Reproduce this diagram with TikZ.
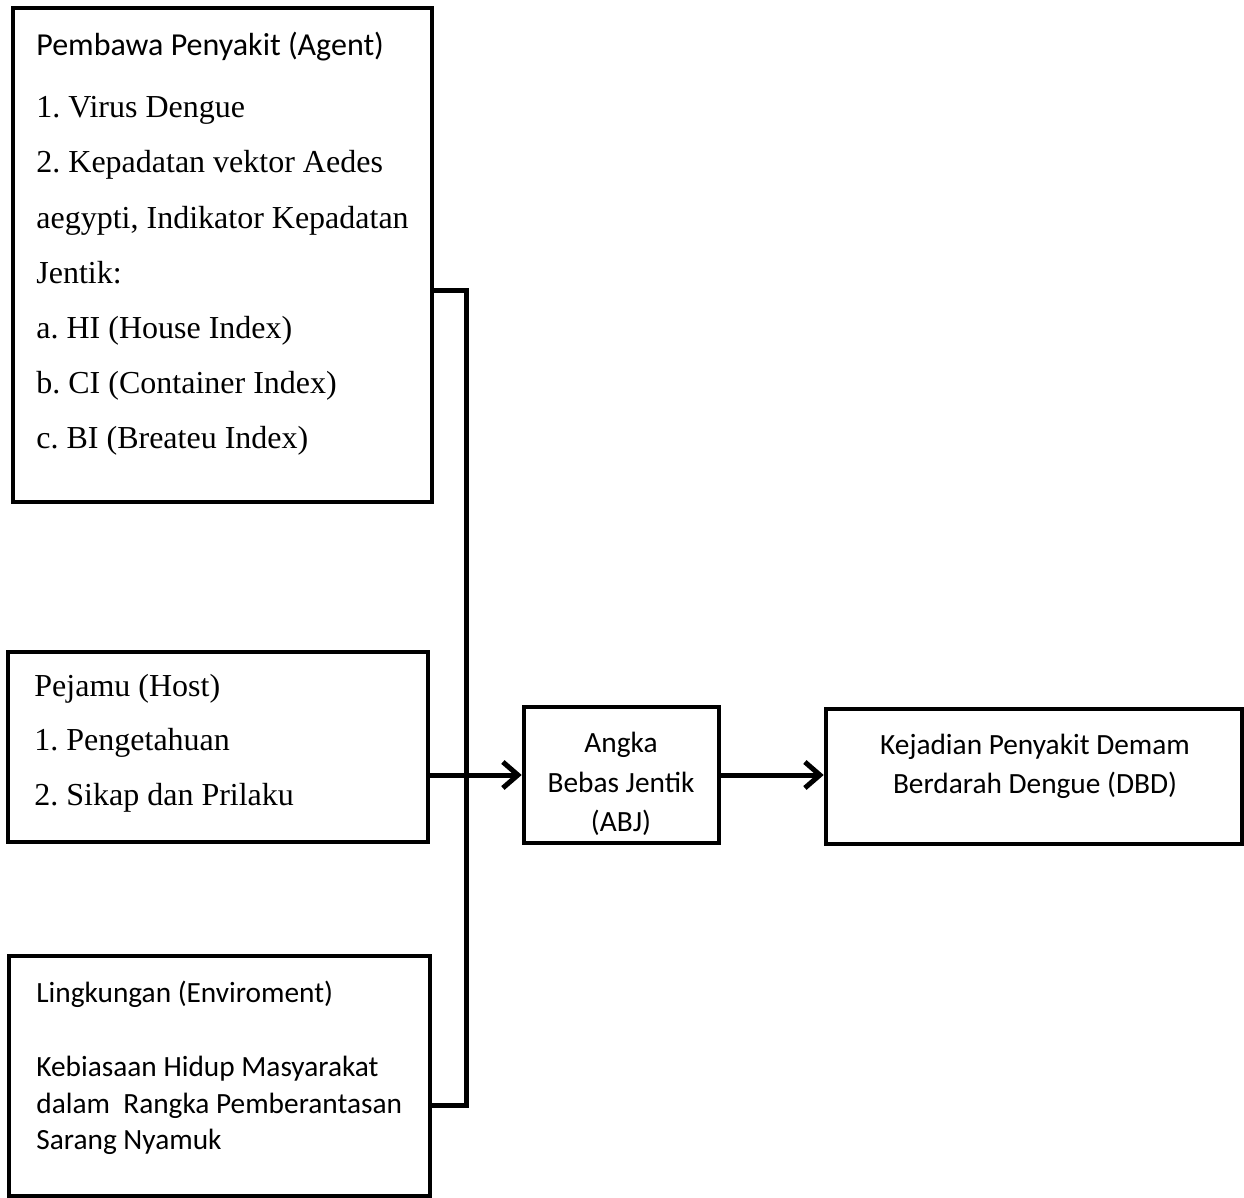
\documentclass[tikz,border=0pt]{standalone}
\usepackage{fontspec}
\setmainfont{Liberation Serif}
\newfontfamily\calibri{Carlito}
\usetikzlibrary{arrows.meta,fit}
\frenchspacing
\begin{document}
\begin{tikzpicture}[x=0.5pt,y=-0.5pt,
  box/.style={draw, line width=2.3pt, inner sep=0pt, line join=miter},
  conn/.style={line width=2.5pt, line join=miter},
  arr/.style={conn, -{Straight Barb[length=7.5pt,width=13pt]}},
  serifline/.style={anchor=base west, inner sep=0pt, font=\fontsize{16}{19}\selectfont},
  sansline/.style={anchor=base west, inner sep=0pt, font=\calibri\fontsize{14.67}{17.6}\selectfont},
  sansbig/.style={anchor=base west, inner sep=0pt, font=\calibri\fontsize{16}{19}\selectfont},
  sanscenter/.style={anchor=base, inner sep=0pt, font=\calibri\fontsize{14.67}{17.6}\selectfont}]
\useasboundingbox (0,0) rectangle (1244,1198);
% boxes
\node[box, fit={(13,8) (432,502)}] (agent) {};
\node[box, fit={(8,652) (428,842)}] (host) {};
\node[box, fit={(9,956) (430,1196)}] (env) {};
\node[box, fit={(524,707) (719,843)}] (abj) {};
\node[box, fit={(826,709) (1242,844)}] (dbd) {};
% agent text
\node[sansbig] (agT) at (36,56) {Pembawa Penyakit (Agent)};
\node[serifline] (ag1) at (36,118) {1. Virus Dengue};
\node[serifline] (ag2) at (36,173) {2. Kepadatan vektor Aedes};
\node[serifline] (ag3) at (36,229) {aegypti, Indikator Kepadatan};
\node[serifline] (ag4) at (36,284) {Jentik:};
\node[serifline] (ag5) at (36,339) {a. HI (House Index)};
\node[serifline] (ag6) at (36,394) {b. CI (Container Index)};
\node[serifline] (ag7) at (36,449) {c. BI (Breateu Index)};
% host text
\node[serifline] (hoT) at (34,696) {Pejamu (Host)};
\node[serifline] (ho1) at (34,750) {1. Pengetahuan};
\node[serifline] (ho2) at (34,805) {2. Sikap dan Prilaku};
% environment text
\node[sansline] (enT) at (36,1002) {Lingkungan (Enviroment)};
\node[sansline] (en1) at (36,1076) {Kebiasaan Hidup Masyarakat};
\node[sansline] (en2) at (36,1113) {dalam\ \ Rangka Pemberantasan};
\node[sansline] (en3) at (36,1149) {Sarang Nyamuk};
% ABJ text
\node[sanscenter] (ab1) at (621,752) {Angka};
\node[sanscenter] (ab2) at (621,792) {Bebas Jentik};
\node[sanscenter] (ab3) at (621,831) {(ABJ)};
% DBD text
\node[sanscenter] (db1) at (1035,754) {Kejadian Penyakit Demam};
\node[sanscenter] (db2) at (1035,793) {Berdarah Dengue (DBD)};
% connectors
\coordinate (jtop) at (466,291);
\coordinate (jbot) at (466,1105);
\draw[conn] (agent.east |- jtop) -- (jtop) -- (jbot) -- (env.east |- jbot);
\draw[arr] (host.east |- abj.west) -- (abj.west);
\draw[arr] (abj.east) -- (dbd.west |- abj.east);
\end{tikzpicture}
\end{document}
